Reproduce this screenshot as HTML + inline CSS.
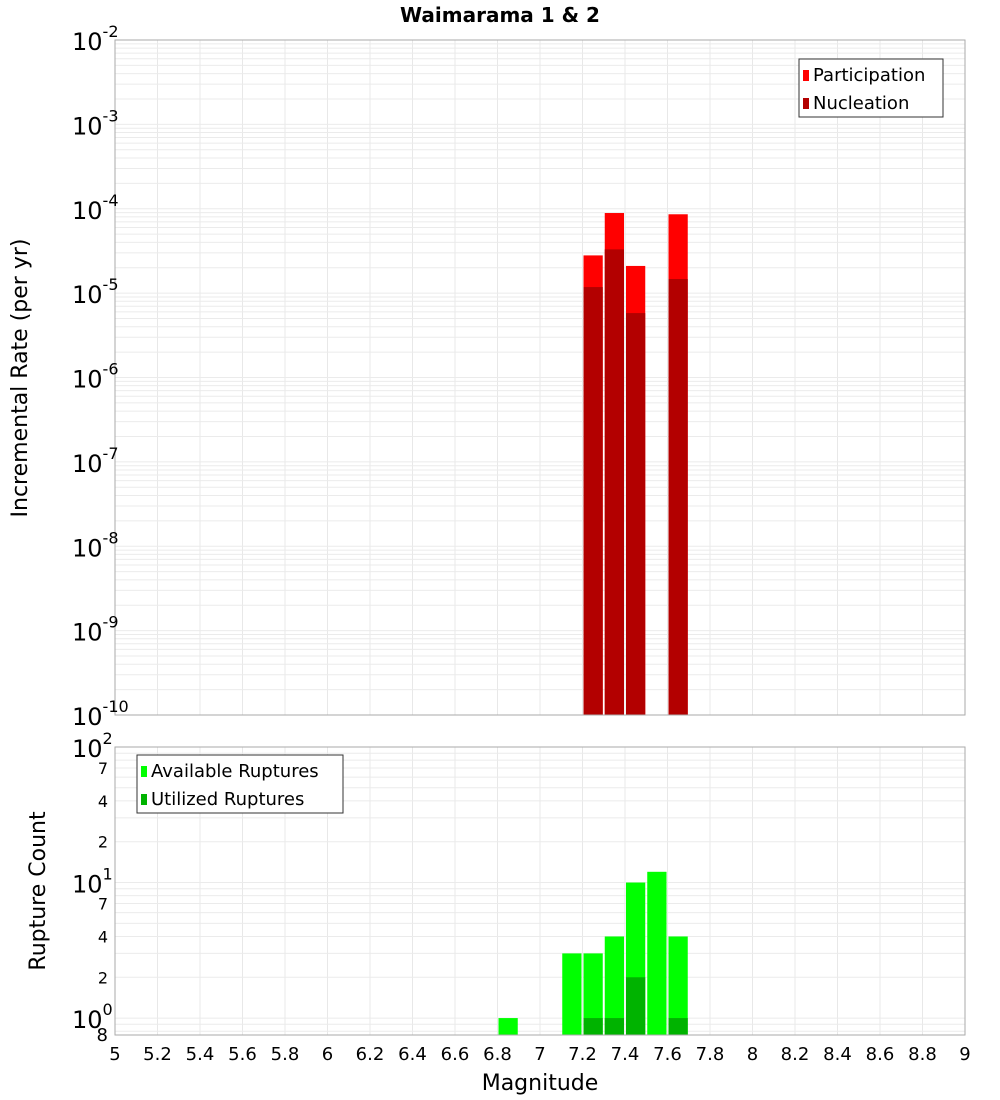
<!DOCTYPE html>
<html><head><meta charset="utf-8"><style>body{margin:0;background:#fff}svg{display:block;font-family:"DejaVu Sans","Liberation Sans",sans-serif}</style></head>
<body>
<svg id="c" width="1000" height="1100">
<text x="500" y="22" text-anchor="middle" font-size="20" font-weight="bold">Waimarama 1 &amp; 2</text>
<g id="gtop"></g>
<g id="gbot"></g>
<text transform="translate(27,378) rotate(-90)" text-anchor="middle" font-size="22">Incremental Rate (per yr)</text>
<text transform="translate(45,891) rotate(-90)" text-anchor="middle" font-size="22">Rupture Count</text>
<text x="540" y="1090" text-anchor="middle" font-size="22">Magnitude</text>
</svg>
<script>
const magBins=[7.25,7.35,7.45,7.65];
const participation=[2.8e-5,8.9e-5,2.1e-5,8.6e-5];
const nucleation=[1.18e-5,3.3e-5,5.8e-6,1.47e-5];
const countBins=[6.85,7.15,7.25,7.35,7.45,7.55,7.65];
const available=[1,3,3,4,10,12,4];
const utilBins=[7.25,7.35,7.45,7.65];
const utilized=[1,1,2,1];
const xTicks=["5","5.2","5.4","5.6","5.8","6","6.2","6.4","6.6","6.8","7","7.2","7.4","7.6","7.8","8","8.2","8.4","8.6","8.8","9"];
const NS="http://www.w3.org/2000/svg";
const L=115,R=965;
const X=m=>L+(m-5)/4*(R-L);
const T0=40,T1=715;const YT=v=>T0+(-2-Math.log10(v))/8*(T1-T0);
const B0=747,B1=1035,bMin=0.75,bMax=100;
const YB=v=>B1-(Math.log10(v)-Math.log10(bMin))/(Math.log10(bMax)-Math.log10(bMin))*(B1-B0);
function mk(p,t,a){const e=document.createElementNS(NS,t);for(const k in a)e.setAttribute(k,a[k]);p.appendChild(e);return e;}
const gTop=document.getElementById('gtop'),gBot=document.getElementById('gbot');
function grid(g,y0,y1,hl){
  for(let i=0;i<xTicks.length;i++){const x=X(5+i*0.2);const l=mk(g,'line',{x1:x,x2:x,y1:y0,y2:y1,stroke:'#e8e8e8'});
  
  }
  hl.forEach(y=>{const l=mk(g,'line',{x1:L,x2:R,y1:y,y2:y,stroke:'#ebebeb'});
  
  });
}
let hl=[];for(let d=-10;d<-2;d++)for(let k=1;k<10;k++)hl.push(YT(k*Math.pow(10,d)));
grid(gTop,T0,T1,hl);
hl=[];for(let d=-1;d<2;d++)for(let k=1;k<10;k++){const v=k*Math.pow(10,d);if(v>=bMin)hl.push(YB(v));}
grid(gBot,B0,B1,hl);
function bar(g,m,v,yf,base,col,nm){const x=X(m-0.05)+1,w=X(m+0.05)-X(m-0.05)-2;const y=yf(v);
 const r=mk(g,'rect',{x:x,y:y,width:w,height:base-y,fill:col});
 
 }
magBins.forEach((m,i)=>bar(gTop,m,participation[i],YT,T1,'#ff0000','participation-bar'));
magBins.forEach((m,i)=>bar(gTop,m,nucleation[i],YT,T1,'#b30000','nucleation-bar'));
countBins.forEach((m,i)=>bar(gBot,m,available[i],YB,B1,'#00ff00','available-bar'));
utilBins.forEach((m,i)=>bar(gBot,m,utilized[i],YB,B1,'#00b300','utilized-bar'));
[[gTop,T0,T1],[gBot,B0,B1]].forEach(([g,a,b])=>{const r=mk(g,'rect',{x:L,y:a,width:R-L,height:b-a,fill:'none',stroke:'#aaa'});
 
 });
function powLabel(g,y,d){const t=mk(g,'text',{x:72,y:y+10,'font-size':24});
 
 
 const a=mk(t,'tspan',{});a.textContent='10';
 const b=mk(t,'tspan',{dy:-13,'font-size':16});b.textContent=String(d);}
for(let d=-2;d>=-10;d--)powLabel(gTop,YT(Math.pow(10,d)),d);
[2,1,0].forEach(d=>powLabel(gBot,YB(Math.pow(10,d)),d));
[70,40,20,7,4,2].forEach(v=>{const t=mk(gBot,'text',{x:108,y:YB(v)+6,'font-size':16,'text-anchor':'end'});t.textContent=String(v)[0];
 
 });
{const t=mk(gBot,'text',{x:108,y:1041,'font-size':18,'text-anchor':'end'});t.textContent='8';
 
 }
xTicks.forEach((s,i)=>{const t=mk(gBot,'text',{x:X(5+i*0.2),y:1060,'font-size':18,'text-anchor':'middle'});t.textContent=s;
 
 });
function legend(g,x,y,w,items){const r=mk(g,'rect',{x:x,y:y,width:w,height:58,fill:'#fff',stroke:'#333'});
 
 
 items.forEach(([lab,col],i)=>{const s=mk(g,'rect',{x:x+4,y:y+11+i*28,width:6,height:11,fill:col});
 
 
 const t=mk(g,'text',{x:x+14,y:y+22+i*28,'font-size':18});t.textContent=lab;
 
 });}
legend(gTop,799,59,144,[['Participation','#ff0000'],['Nucleation','#b30000']]);
legend(gBot,137,755,206,[['Available Ruptures','#00ff00'],['Utilized Ruptures','#00b300']]);
</script>
</body></html>
